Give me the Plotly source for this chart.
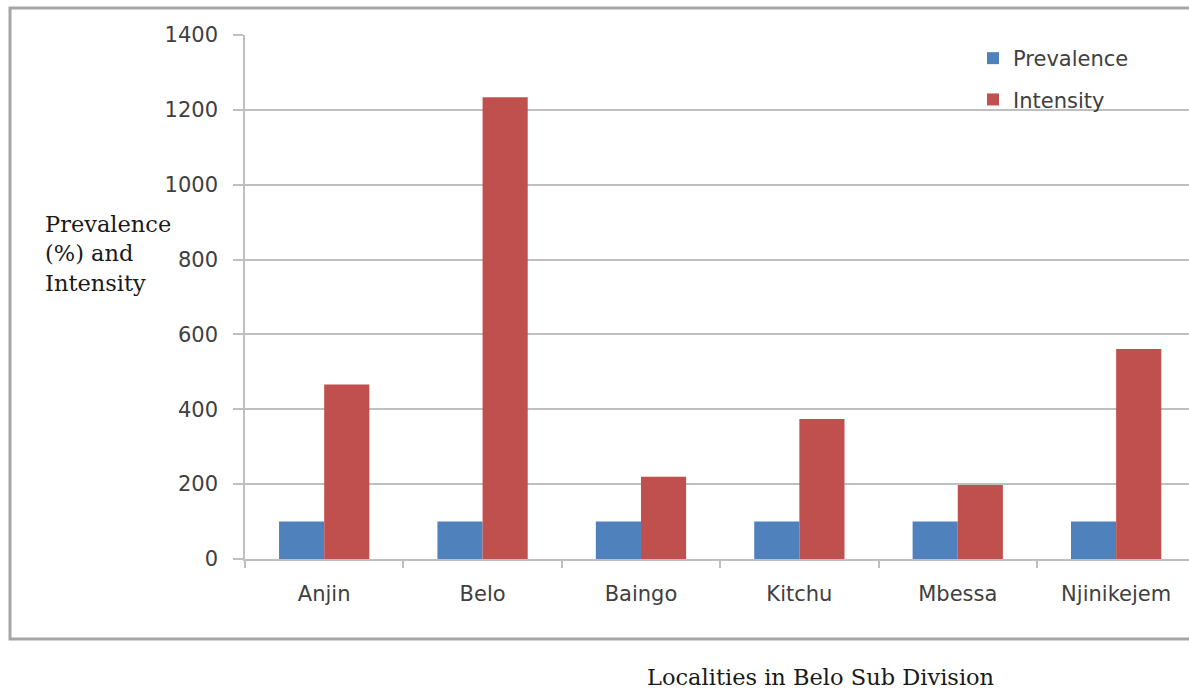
import plotly.graph_objects as go

# Localities surveyed and their values
localities = ["Anjin", "Belo", "Baingo", "Kitchu", "Mbessa", "Njinikejem"]
prevalence = [100, 100, 100, 100, 100, 100]
intensity = [466, 1234, 220, 374, 198, 561]

y_ticks = [0, 200, 400, 600, 800, 1000, 1200, 1400]

BLUE = "#4F81BD"
RED = "#C0504D"
GRID = "#BFBFBF"
TICK_FONT = dict(family="DejaVu Sans, sans-serif", size=21, color="#404040")
SERIF = dict(family="DejaVu Serif, serif", size=22.5, color="#1a1a1a")

W, H = 1189, 690
L, R, T, B = 245, 0, 35, 131
pw, ph = W - L - R, H - T - B

fig = go.Figure()
fig.add_trace(go.Bar(x=localities, y=prevalence, name="Prevalence",
                     marker=dict(color=BLUE, line=dict(width=0)),
                     legendgroup="p"))
fig.add_trace(go.Bar(x=localities, y=intensity, name="Intensity",
                     marker=dict(color=RED, line=dict(width=0)),
                     legendgroup="i"))

def px_x(x):
    return (x - L) / pw

def px_y(y):
    return (H - B - y) / ph

fig.update_layout(
    width=W, height=H,
    margin=dict(l=L, r=R, t=T, b=B),
    plot_bgcolor="white", paper_bgcolor="white",
    barmode="group", bargap=0.43, bargroupgap=0,
    showlegend=True,
    legend=dict(x=px_x(973), y=px_y(38), xanchor="left", yanchor="top",
                font=TICK_FONT, bgcolor="rgba(0,0,0,0)",
                tracegroupgap=11, traceorder="grouped",
                itemwidth=30),
    xaxis=dict(range=[-0.5, 5.46], tickfont=TICK_FONT,
               showline=True, linecolor=GRID, linewidth=1.5,
               ticks="outside", ticklen=7, tickcolor=GRID, tickwidth=1.5,
               tickson="boundaries", ticklabelstandoff=15,
               showgrid=False, fixedrange=True),
    yaxis=dict(range=[0, 1400], tickvals=y_ticks, tickfont=TICK_FONT,
               showline=True, linecolor=GRID, linewidth=1.5,
               ticks="outside", ticklen=10, tickcolor=GRID, tickwidth=1.5,
               ticklabelstandoff=11,
               showgrid=True, gridcolor=GRID, gridwidth=1.5,
               zeroline=False, fixedrange=True),
    shapes=[dict(type="rect", xref="paper", yref="paper",
                 x0=px_x(10), x1=1.02, y0=px_y(639), y1=px_y(8),
                 line=dict(color="#A6A6A6", width=3), layer="below")],
    annotations=[
        dict(text="Prevalence<br>(%) and<br>Intensity", xref="paper", yref="paper",
             x=px_x(43), y=px_y(254), xanchor="left", yanchor="middle",
             align="left", showarrow=False, font=SERIF),
        dict(text="Localities in Belo Sub Division", xref="paper", yref="paper",
             x=px_x(820), y=px_y(677), xanchor="center", yanchor="middle",
             showarrow=False, font=SERIF),
    ],
)

fig.write_html("out.html", config=dict(displayModeBar=False))
